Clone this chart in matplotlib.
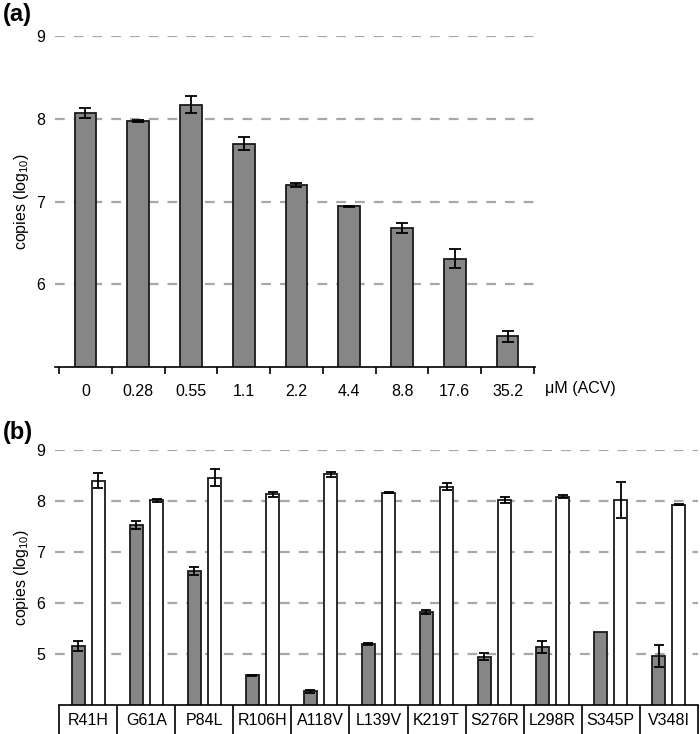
import numpy as np
import matplotlib
matplotlib.use('Agg')
import matplotlib.pyplot as plt

plt.rcParams['font.family'] = ['Liberation Sans', 'DejaVu Sans']
plt.rcParams['lines.scale_dashes'] = False

# panel (a) - ACV dose response
conc = ['0', '0.28', '0.55', '1.1', '2.2', '4.4', '8.8', '17.6', '35.2']
copies_a = [8.07, 7.97, 8.17, 7.70, 7.20, 6.94, 6.68, 6.31, 5.37]
err_a = [0.06, 0.01, 0.10, 0.075, 0.02, 0.01, 0.06, 0.11, 0.066]

# panel (b) - mutants, grey = treated, white = untreated
mutants = ['R41H', 'G61A', 'P84L', 'R106H', 'A118V', 'L139V',
           'K219T', 'S276R', 'L298R', 'S345P', 'V348I']
grey_b = [5.16, 7.53, 6.63, 4.58, 4.27, 5.20, 5.82, 4.95, 5.13, 5.43, 4.96]
grey_err = [0.095, 0.08, 0.075, 0.015, 0.03, 0.02, 0.04, 0.07, 0.12, 0, 0.21]
white_b = [8.40, 8.01, 8.46, 8.13, 8.52, 8.16, 8.28, 8.02, 8.08, 8.02, 7.93]
white_err = [0.14, 0.02, 0.16, 0.055, 0.05, 0.01, 0.07, 0.05, 0.03, 0.36, 0.01]

W, H = 700, 734
fig = plt.figure(figsize=(W / 100, H / 100), dpi=100)

bar_grey = '#868686'
edge = '#1a1a1a'
grid_kw = dict(color='#a8a8a8', linewidth=1.6, linestyle=(0, (7, 6.5)))
fs = 11.5

def style(ax):
    for s in ['top', 'right', 'left']:
        ax.spines[s].set_visible(False)
    ax.spines['bottom'].set_linewidth(1.2)
    ax.tick_params(axis='y', length=0, pad=7, labelsize=fs)
    ax.set_axisbelow(True)

# ---- (a)
ax1 = fig.add_axes([55 / W, 1 - 367 / H, 480 / W, 331 / H])
x = np.arange(len(conc))
ax1.bar(x, copies_a, width=0.41, bottom=0, color=bar_grey, edgecolor=edge, linewidth=1.3, zorder=2)
ax1.errorbar(x, copies_a, yerr=err_a, fmt='none', ecolor='black', elinewidth=1.3,
             capsize=4, capthick=1.3, zorder=3)
ax1.set_ylim(5, 9)
ax1.set_xlim(-0.576, 8.52)
ax1.set_yticks([6, 7, 8, 9])
for v in [6, 7, 8, 9]:
    ax1.axhline(v, zorder=1, **grid_kw)
style(ax1)
ax1.set_xticks(np.arange(len(conc) + 1) - 0.5)
ax1.set_xticklabels([])
ax1.tick_params(axis='x', length=5, width=1.2, direction='out')
ax1.set_xticks(x, minor=True)
ax1.set_xticklabels(conc, minor=True, fontsize=fs)
ax1.tick_params(axis='x', which='minor', length=0, pad=12)
ax1.text(1.02, -0.066, 'μM (ACV)', transform=ax1.transAxes, fontsize=fs, va='center', ha='left')
ax1.set_ylabel(r'copies (log$_{\mathregular{10}}$)', fontsize=fs, labelpad=4)
fig.text(3 / W, 1 - 15 / H, '(a)', fontsize=17, fontweight='bold', va='center', ha='left')

# ---- (b)
ax2 = fig.add_axes([55 / W, 1 - 705 / H, 642.7 / W, 255 / H])
xb = np.arange(len(mutants))
off = 0.175
bw = 0.22
ax2.bar(xb - off, grey_b, width=bw, color=bar_grey, edgecolor=edge, linewidth=1.3, zorder=2)
ax2.bar(xb + off, white_b, width=bw, color='white', edgecolor=edge, linewidth=1.3, zorder=2)
ge = np.array(grey_err)
mask = ge > 0
ax2.errorbar(xb[mask] - off, np.array(grey_b)[mask], yerr=ge[mask], fmt='none', ecolor='black',
             elinewidth=1.3, capsize=3.5, capthick=1.3, zorder=3)
ax2.errorbar(xb + off, white_b, yerr=white_err, fmt='none', ecolor='black',
             elinewidth=1.3, capsize=3.5, capthick=1.3, zorder=3)
ax2.set_ylim(4, 9)
ax2.set_xlim(-0.574, 10.5)
ax2.set_yticks([5, 6, 7, 8, 9])
for v in [5, 6, 7, 8, 9]:
    ax2.axhline(v, zorder=1, **grid_kw)
style(ax2)
ax2.spines['bottom'].set_bounds(-0.5, 10.5)
# separators between the label boxes run to the bottom edge
ax2.set_xticks(np.arange(len(mutants) + 1) - 0.5)
ax2.set_xticklabels([])
ax2.tick_params(axis='x', length=23, width=1.2, direction='out')
ax2.set_xticks(xb, minor=True)
ax2.set_xticklabels(mutants, minor=True, fontsize=fs)
ax2.tick_params(axis='x', which='minor', length=0, pad=6)
ax2.set_ylabel(r'copies (log$_{\mathregular{10}}$)', fontsize=fs, labelpad=4)
fig.text(3 / W, 1 - 432 / H, '(b)', fontsize=17, fontweight='bold', va='center', ha='left')

fig.savefig('out.png', dpi=100)
